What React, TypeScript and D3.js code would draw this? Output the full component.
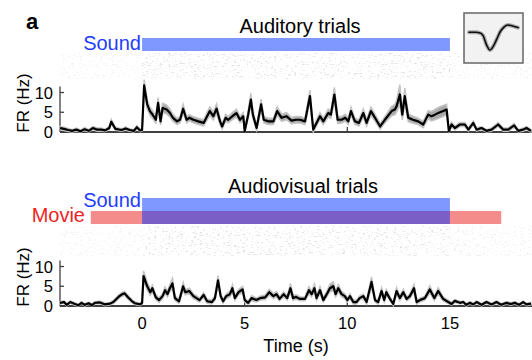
import React, { useRef, useEffect } from 'react';
import * as d3 from 'd3';

// [time (s), mean FR (Hz), sem (Hz)]
const auditoryTrace: [number, number, number][] = [
  [-4.0, 1.0, 0.4], [-3.8, 0.8, 0.4], [-3.6, 0.5, 0.4], [-3.4, 0.3, 0.3], [-3.2, 0.6, 0.4],
  [-3.0, 0.2, 0.3], [-2.8, 0.7, 0.4], [-2.6, 0.3, 0.3], [-2.4, 1.0, 0.4], [-2.2, 0.6, 0.4],
  [-2.0, 0.6, 0.4], [-1.8, 0.4, 0.3], [-1.6, 1.0, 0.5], [-1.5, 2.6, 0.6], [-1.3, 0.8, 0.4],
  [-1.0, 0.5, 0.3], [-0.8, 0.9, 0.4], [-0.6, 0.5, 0.3], [-0.4, 0.3, 0.3], [-0.25, 1.2, 0.4],
  [-0.1, 0.4, 0.3], [0.0, 0.5, 0.3], [0.1, 11.8, 1.5], [0.25, 7.0, 1.2], [0.38, 5.3, 1.0],
  [0.5, 4.5, 1.0], [0.67, 3.1, 0.9], [0.78, 7.4, 1.3], [0.9, 2.7, 0.9], [1.0, 6.1, 1.2],
  [1.2, 5.7, 1.1], [1.36, 4.8, 1.0], [1.5, 3.6, 0.9], [1.7, 2.7, 0.8], [1.85, 3.1, 0.8],
  [2.0, 5.9, 1.1], [2.17, 3.1, 0.8], [2.3, 3.6, 0.8], [2.5, 3.1, 0.8], [2.74, 2.7, 0.8],
  [3.0, 2.3, 0.8], [3.3, 5.3, 1.1], [3.47, 4.0, 1.0], [3.63, 5.9, 1.2], [3.8, 2.7, 0.8],
  [3.9, 1.4, 0.7], [4.07, 3.6, 0.9], [4.2, 3.1, 0.8], [4.4, 4.0, 0.9], [4.6, 4.8, 1.0],
  [4.77, 3.1, 0.8], [4.93, 4.0, 0.9], [5.0, 0.2, 0.5], [5.17, 4.4, 1.0], [5.3, 8.2, 1.6],
  [5.4, 4.4, 1.0], [5.58, 1.0, 0.6], [5.8, 7.0, 1.3], [5.93, 3.1, 0.8], [6.15, 2.7, 0.8],
  [6.4, 2.7, 0.8], [6.58, 5.3, 1.1], [6.8, 3.6, 0.9], [7.04, 4.0, 0.9], [7.28, 2.9, 0.8],
  [7.5, 3.1, 0.8], [7.7, 3.1, 0.8], [7.94, 2.7, 0.8], [8.18, 9.1, 1.5], [8.34, 0.6, 0.6],
  [8.5, 2.3, 0.8], [8.67, 4.0, 0.9], [8.83, 2.7, 0.8], [9.07, 4.8, 1.0], [9.2, 4.4, 1.0],
  [9.37, 9.5, 1.8], [9.53, 3.1, 0.9], [9.72, 3.1, 0.8], [9.9, 3.6, 0.9], [10.05, 2.7, 0.8],
  [10.18, 5.3, 1.0], [10.37, 2.7, 0.8], [10.57, 2.3, 0.8], [10.78, 4.8, 1.0], [10.94, 2.3, 0.8],
  [11.15, 5.3, 1.0], [11.35, 3.6, 0.9], [11.6, 1.4, 0.7], [11.83, 3.1, 0.8], [12.16, 5.3, 1.2],
  [12.32, 5.7, 1.3], [12.4, 6.5, 1.5], [12.56, 9.5, 2.5], [12.68, 4.4, 1.3], [12.8, 9.1, 2.0],
  [12.97, 3.6, 1.0], [13.2, 3.1, 0.9], [13.45, 2.7, 0.8], [13.7, 1.9, 0.8], [13.94, 4.4, 1.0],
  [14.1, 4.0, 1.2], [14.27, 4.4, 1.3], [14.43, 4.8, 1.4], [14.67, 5.3, 1.4], [14.84, 5.7, 1.3],
  [14.95, 0.2, 0.5], [15.08, 1.9, 0.6], [15.24, 1.0, 0.5], [15.49, 1.9, 0.5], [15.73, 1.9, 0.5],
  [15.9, 0.6, 0.4], [16.14, 2.3, 0.5], [16.3, 0.6, 0.4], [16.54, 1.0, 0.4], [16.78, 0.3, 0.3],
  [17.03, 0.6, 0.4], [17.35, 1.9, 0.5], [17.6, 0.6, 0.4], [17.84, 0.6, 0.4], [18.13, 1.7, 0.5],
  [18.33, 0.3, 0.3], [18.57, 0.6, 0.4], [18.73, 1.0, 0.4], [18.95, 0.3, 0.3],
];

const audiovisualTrace: [number, number, number][] = [
  [-4.0, 0.8, 0.3], [-3.8, 1.0, 0.3], [-3.68, 0.3, 0.3], [-3.5, 1.0, 0.3], [-3.27, 0.5, 0.3],
  [-3.1, 0.2, 0.2], [-2.95, 0.8, 0.3], [-2.8, 0.3, 0.3], [-2.6, 0.7, 0.3], [-2.45, 0.2, 0.2],
  [-2.3, 0.8, 0.3], [-2.05, 0.9, 0.3], [-1.8, 0.4, 0.3], [-1.56, 0.6, 0.3], [-1.4, 1.0, 0.4],
  [-1.15, 2.3, 0.5], [-1.0, 2.9, 0.5], [-0.85, 3.2, 0.5], [-0.7, 2.3, 0.5], [-0.5, 1.25, 0.4],
  [-0.35, 0.7, 0.3], [-0.1, 0.4, 0.3], [0.0, 0.8, 0.3], [0.07, 7.6, 1.3], [0.25, 5.0, 1.0],
  [0.4, 3.5, 0.8], [0.5, 4.5, 0.8], [0.67, 2.2, 0.6], [0.83, 1.5, 0.6], [1.0, 2.5, 0.6],
  [1.12, 4.0, 0.8], [1.24, 3.0, 0.7], [1.35, 4.5, 0.9], [1.48, 5.7, 1.3], [1.6, 2.0, 0.6],
  [1.8, 1.2, 0.5], [2.0, 5.0, 1.0], [2.1, 3.5, 0.7], [2.3, 3.8, 0.7], [2.5, 2.5, 0.6],
  [2.65, 2.0, 0.6], [2.8, 1.5, 0.5], [3.0, 2.8, 0.6], [3.17, 1.2, 0.5], [3.4, 1.0, 0.5],
  [3.55, 2.0, 0.6], [3.7, 6.5, 1.2], [3.83, 2.5, 0.6], [3.95, 1.2, 0.5], [4.1, 2.5, 0.6],
  [4.28, 3.0, 0.7], [4.4, 4.5, 0.9], [4.52, 2.0, 0.6], [4.7, 3.5, 0.7], [4.9, 4.2, 0.8],
  [5.0, 1.5, 0.5], [5.17, 0.8, 0.4], [5.33, 2.0, 0.6], [5.58, 1.5, 0.5], [5.75, 2.0, 0.5],
  [6.0, 2.2, 0.6], [6.2, 3.5, 0.7], [6.4, 2.5, 0.6], [6.55, 3.0, 0.7], [6.7, 1.8, 0.5],
  [6.9, 3.0, 0.6], [7.07, 2.0, 0.5], [7.23, 4.5, 1.2], [7.36, 2.0, 0.6], [7.5, 2.3, 0.6],
  [7.7, 1.8, 0.5], [7.94, 1.8, 0.5], [8.13, 4.0, 0.9], [8.26, 3.0, 0.7], [8.4, 4.5, 1.0],
  [8.5, 2.0, 0.6], [8.67, 4.0, 0.9], [8.83, 1.5, 0.5], [9.0, 3.0, 0.7], [9.15, 4.5, 1.0],
  [9.32, 5.0, 1.1], [9.43, 3.0, 0.7], [9.56, 4.5, 0.9], [9.72, 3.0, 0.7], [9.88, 2.5, 0.6],
  [10.0, 1.5, 0.5], [10.13, 2.5, 0.6], [10.29, 1.0, 0.5], [10.45, 1.0, 0.5], [10.6, 2.0, 0.5],
  [10.78, 2.5, 0.6], [10.94, 1.0, 0.5], [11.18, 6.1, 1.3], [11.35, 1.5, 0.5], [11.5, 1.0, 0.5],
  [11.67, 3.8, 0.8], [11.8, 1.5, 0.5], [11.9, 3.5, 0.7], [12.08, 1.8, 0.5], [12.24, 0.5, 0.4],
  [12.4, 3.8, 0.8], [12.56, 2.0, 0.6], [12.73, 3.5, 0.7], [12.89, 1.8, 0.5], [13.05, 2.5, 0.6],
  [13.25, 4.5, 1.0], [13.38, 1.0, 0.5], [13.54, 1.5, 0.5], [13.78, 2.0, 0.5], [14.02, 4.2, 0.9],
  [14.24, 2.0, 0.6], [14.43, 3.8, 0.8], [14.67, 1.8, 0.5], [14.92, 1.0, 0.4], [15.08, 0.5, 0.3],
  [15.24, 1.3, 0.4], [15.49, 0.8, 0.3], [15.65, 1.0, 0.3], [15.8, 0.3, 0.3], [15.97, 0.8, 0.3],
  [16.14, 0.4, 0.3], [16.3, 1.0, 0.3], [16.54, 0.3, 0.3], [16.78, 1.0, 0.3], [17.03, 0.4, 0.3],
  [17.27, 1.0, 0.3], [17.5, 0.3, 0.3], [17.76, 0.8, 0.3], [17.97, 0.5, 0.3], [18.16, 0.8, 0.3],
  [18.36, 0.3, 0.3], [18.57, 1.0, 0.3], [18.73, 0.4, 0.3], [18.95, 0.6, 0.3],
];

const soundEpoch = [0, 15];
const movieEpoch = [-2.5, 17.5];
const timeTicks = [0, 5, 10, 15];
const frTicks = [0, 5, 10];
// mean spike waveform shown in the inset (arbitrary units)
const waveform = [0, 0, 0, -0.1, -0.6, -2.4, -3.4, -2.6, -1.2, 0.2, 1.0, 1.4, 1.3, 1.1, 0.9];

const W = 532;
const H = 360;
const FONT = "'Liberation Sans', Arial, sans-serif";

const App = () => {
  const svgRef = useRef<SVGSVGElement>(null);

  useEffect(() => {
    const svg = d3.select(svgRef.current);
    svg.selectAll('*').remove();

    const x = d3.scaleLinear().domain([-4, 19]).range([60, 532]);
    const yTop = d3.scaleLinear().domain([0, 11.5]).range([132, 86.6]);
    const yBot = d3.scaleLinear().domain([0, 11.5]).range([306, 260.6]);

    // speckle texture for the spike rasters
    const defs = svg.append('defs');
    const f = defs.append('filter').attr('id', 'speckle')
      .attr('x', 0).attr('y', 0).attr('width', '100%').attr('height', '100%');
    f.append('feTurbulence').attr('type', 'fractalNoise')
      .attr('baseFrequency', '0.35 0.9').attr('numOctaves', 2).attr('seed', 4);
    f.append('feColorMatrix').attr('type', 'matrix')
      .attr('values', '0 0 0 0 0.4  0 0 0 0 0.4  0 0 0 0 0.4  -7 0 0 0 2.9');

    const raster = (y0: number, y1: number) => {
      const g = svg.append('g');
      const parts = [
        { a: -4, b: soundEpoch[0], o: 0.14 },
        { a: soundEpoch[0], b: soundEpoch[1], o: 0.32 },
        { a: soundEpoch[1], b: 19, o: 0.18 },
      ];
      parts.forEach(p => {
        g.append('rect')
          .attr('x', x(p.a)).attr('y', y0)
          .attr('width', x(p.b) - x(p.a)).attr('height', y1 - y0)
          .attr('fill', '#fff')
          .attr('filter', 'url(#speckle)')
          .attr('opacity', p.o);
      });
    };

    const trace = (data: [number, number, number][], y: d3.ScaleLinear<number, number>) => {
      const area = d3.area<[number, number, number]>()
        .x(d => x(d[0]))
        .y0(d => y(Math.max(0, d[1] - d[2])))
        .y1(d => y(d[1] + d[2]));
      const line = d3.line<[number, number, number]>()
        .x(d => x(d[0]))
        .y(d => y(d[1]));
      svg.append('path').attr('d', area(data)).attr('fill', '#a9a9a9')
        .attr('stroke', '#c4c4c4').attr('stroke-width', 1.5);
      svg.append('path').attr('d', line(data))
        .attr('fill', 'none').attr('stroke', '#000')
        .attr('stroke-width', 2.2).attr('stroke-linejoin', 'round');
    };

    const axes = (y: d3.ScaleLinear<number, number>, showX: boolean) => {
      const y0 = y(0);
      const g = svg.append('g').attr('stroke', '#404040');
      g.append('line').attr('x1', x(-4)).attr('x2', W).attr('y1', y0).attr('y2', y0).attr('stroke-width', 2);
      g.append('line').attr('x1', x(-4)).attr('x2', x(-4)).attr('y1', y0).attr('y2', y.range()[1]).attr('stroke-width', 1.3);
      frTicks.forEach(t => {
        g.append('line').attr('x1', x(-4)).attr('x2', x(-4) + 4).attr('y1', y(t)).attr('y2', y(t)).attr('stroke-width', 1.3);
        svg.append('text').attr('x', 53).attr('y', y(t) + 6)
          .attr('text-anchor', 'end').attr('font-size', 16.5).attr('font-family', FONT)
          .text(t);
      });
      timeTicks.forEach(t => {
        g.append('line').attr('x1', x(t)).attr('x2', x(t)).attr('y1', y0).attr('y2', y0 - 5).attr('stroke-width', 1.3);
        if (showX) {
          svg.append('text').attr('x', x(t)).attr('y', 329)
            .attr('text-anchor', 'middle').attr('font-size', 16.5).attr('font-family', FONT)
            .text(t);
        }
      });
      svg.append('text')
        .attr('transform', `translate(29,${y0 - 29}) rotate(-90)`)
        .attr('text-anchor', 'middle').attr('font-size', 17).attr('font-family', FONT)
        .text('FR (Hz)');
    };

    const label = (txt: string, px: number, py: number, anchor: string, color: string) => {
      svg.append('text').attr('x', px).attr('y', py)
        .attr('text-anchor', anchor).attr('fill', color)
        .attr('font-size', 20).attr('font-family', FONT).text(txt);
    };

    // panel label
    svg.append('text').attr('x', 26).attr('y', 29).attr('font-size', 22)
      .attr('font-weight', 'bold').attr('font-family', FONT).text('a');

    // ---- auditory trials ----
    label('Auditory trials', 300, 33, 'middle', '#000');
    svg.append('rect').attr('x', x(soundEpoch[0])).attr('y', 38)
      .attr('width', x(soundEpoch[1]) - x(soundEpoch[0])).attr('height', 13)
      .attr('fill', 'rgb(0,50,255)').attr('opacity', 0.5);
    label('Sound', 141, 50, 'end', '#1f3dff');
    raster(53, 79);
    axes(yTop, false);
    trace(auditoryTrace, yTop);

    // ---- audiovisual trials ----
    label('Audiovisual trials', 303, 193, 'middle', '#000');
    svg.append('rect').attr('x', x(movieEpoch[0])).attr('y', 211)
      .attr('width', x(movieEpoch[1]) - x(movieEpoch[0])).attr('height', 13)
      .attr('fill', 'rgb(233,25,25)').attr('opacity', 0.5);
    svg.append('rect').attr('x', x(soundEpoch[0])).attr('y', 198)
      .attr('width', x(soundEpoch[1]) - x(soundEpoch[0])).attr('height', 26)
      .attr('fill', 'rgb(0,50,255)').attr('opacity', 0.5);
    label('Sound', 141, 206.5, 'end', '#1f3dff');
    label('Movie', 85, 222, 'end', '#ee2424');
    raster(226, 256);
    axes(yBot, true);
    trace(audiovisualTrace, yBot);

    svg.append('text').attr('x', x(7.5)).attr('y', 352)
      .attr('text-anchor', 'middle').attr('font-size', 18).attr('font-family', FONT)
      .text('Time (s)');

    // ---- waveform inset ----
    const inset = svg.append('g');
    inset.append('rect').attr('x', 464).attr('y', 13).attr('width', 59).attr('height', 50)
      .attr('fill', '#f2f2f2').attr('stroke', '#666').attr('stroke-width', 1.5);
    const wx = d3.scaleLinear().domain([0, waveform.length - 1]).range([469, 518]);
    const wy = d3.scaleLinear().domain([-3.4, 1.4]).range([50, 25]);
    const wline = d3.line<number>().x((_, i) => wx(i)).y(d => wy(d)).curve(d3.curveMonotoneX);
    inset.append('path').attr('d', wline(waveform)).attr('fill', 'none')
      .attr('stroke', '#aaa').attr('stroke-width', 4).attr('stroke-linecap', 'round');
    inset.append('path').attr('d', wline(waveform)).attr('fill', 'none')
      .attr('stroke', '#111').attr('stroke-width', 1.6).attr('stroke-linecap', 'round');
  }, []);

  return (
    <svg ref={svgRef} width={W} height={H}
      style={{ position: 'absolute', left: 0, top: 0, background: '#fff' }} />
  );
};

export default App;
